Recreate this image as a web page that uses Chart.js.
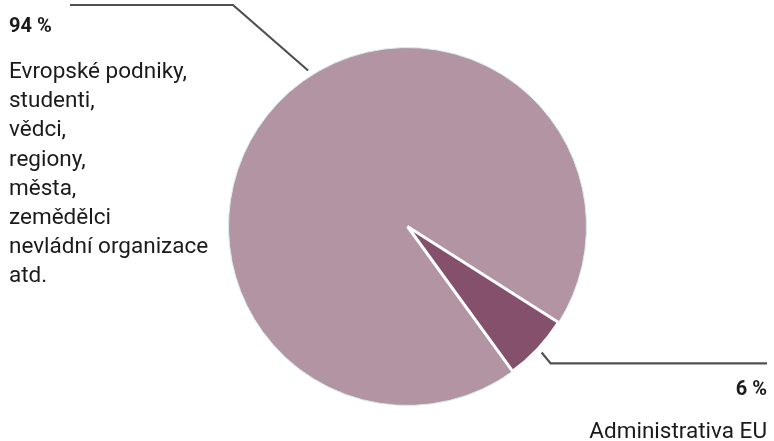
<!DOCTYPE html>
<html>
<head>
<meta charset="utf-8">
<script src="https://cdn.jsdelivr.net/npm/chart.js@4"></script>
<style>
  html, body { margin: 0; padding: 0; background: #fff; }
  #wrap { width: 774px; height: 441px; position: relative; }
</style>
</head>
<body>
<div id="wrap"><canvas id="pie"></canvas></div>
<script>
var categories = ['Evropské podniky, studenti, vědci, regiony, města, zemědělci nevládní organizace atd.', 'Administrativa EU'];
var shares = [94, 6];
var valueLabels = ['94 %', '6 %'];
var bigLabelLines = ['Evropské podniky,', 'studenti,', 'vědci,', 'regiony,', 'města,', 'zemědělci', 'nevládní organizace', 'atd.'];
var smallLabelLines = ['Administrativa EU'];

var FONT = 'Roboto, "Noto Sans", sans-serif';

var labelsPlugin = {
    id: 'pieLabels',
    afterDraw: function (chart) {
        var ctx = chart.ctx;
        var meta = chart.getDatasetMeta(0);
        var big = meta.data[0], small = meta.data[1];
        var cx = big.x, cy = big.y, R = big.outerRadius;

        ctx.save();
        ctx.strokeStyle = '#505050';
        ctx.lineWidth = 2.2;

        // leader for the big slice
        var a = (big.startAngle + big.endAngle) / 2 + 14.3 * Math.PI / 180;
        ctx.beginPath();
        ctx.moveTo(cx + (R + 6) * Math.cos(a), cy + (R + 6) * Math.sin(a));
        ctx.lineTo(233, 5);
        ctx.lineTo(70, 5);
        ctx.stroke();

        // leader for the small slice
        var b = (small.startAngle + small.endAngle) / 2;
        var sx = cx + (R + 5) * Math.cos(b), sy = cy + (R + 5) * Math.sin(b);
        ctx.beginPath();
        ctx.moveTo(sx, sy);
        ctx.lineTo(sx + 9, sy + 11);
        ctx.lineTo(767, sy + 11);
        ctx.stroke();

        ctx.fillStyle = '#1a1a1a';
        ctx.textBaseline = 'alphabetic';
        ctx.textAlign = 'left';
        ctx.font = 'bold 20px ' + FONT;
        ctx.fillText(valueLabels[0], 9, 32);
        ctx.font = '22.5px ' + FONT;
        bigLabelLines.forEach(function (t, i) {
            ctx.fillText(t, 9, 78 + i * 29.2);
        });

        ctx.textAlign = 'right';
        ctx.font = 'bold 20px ' + FONT;
        ctx.fillText(valueLabels[1], 767, 395);
        ctx.font = '22.5px ' + FONT;
        smallLabelLines.forEach(function (t, i) {
            ctx.fillText(t, 767, 438 + i * 29.2);
        });
        ctx.restore();
    }
};

new Chart(document.getElementById('pie'), {
    type: 'pie',
    data: {
        labels: categories,
        datasets: [{
            data: shares,
            backgroundColor: ['#b394a3', '#85506b'],
            borderColor: ['#d8eef0', '#ffffff'],
            borderWidth: [1, 3]
        }]
    },
    options: {
        responsive: true,
        maintainAspectRatio: false,
        animation: false,
        rotation: 144,
        layout: { padding: { top: 46, bottom: 34, left: 227, right: 186 } },
        plugins: {
            legend: { display: false },
            tooltip: { enabled: false }
        }
    },
    plugins: [labelsPlugin]
});
</script>
</body>
</html>
